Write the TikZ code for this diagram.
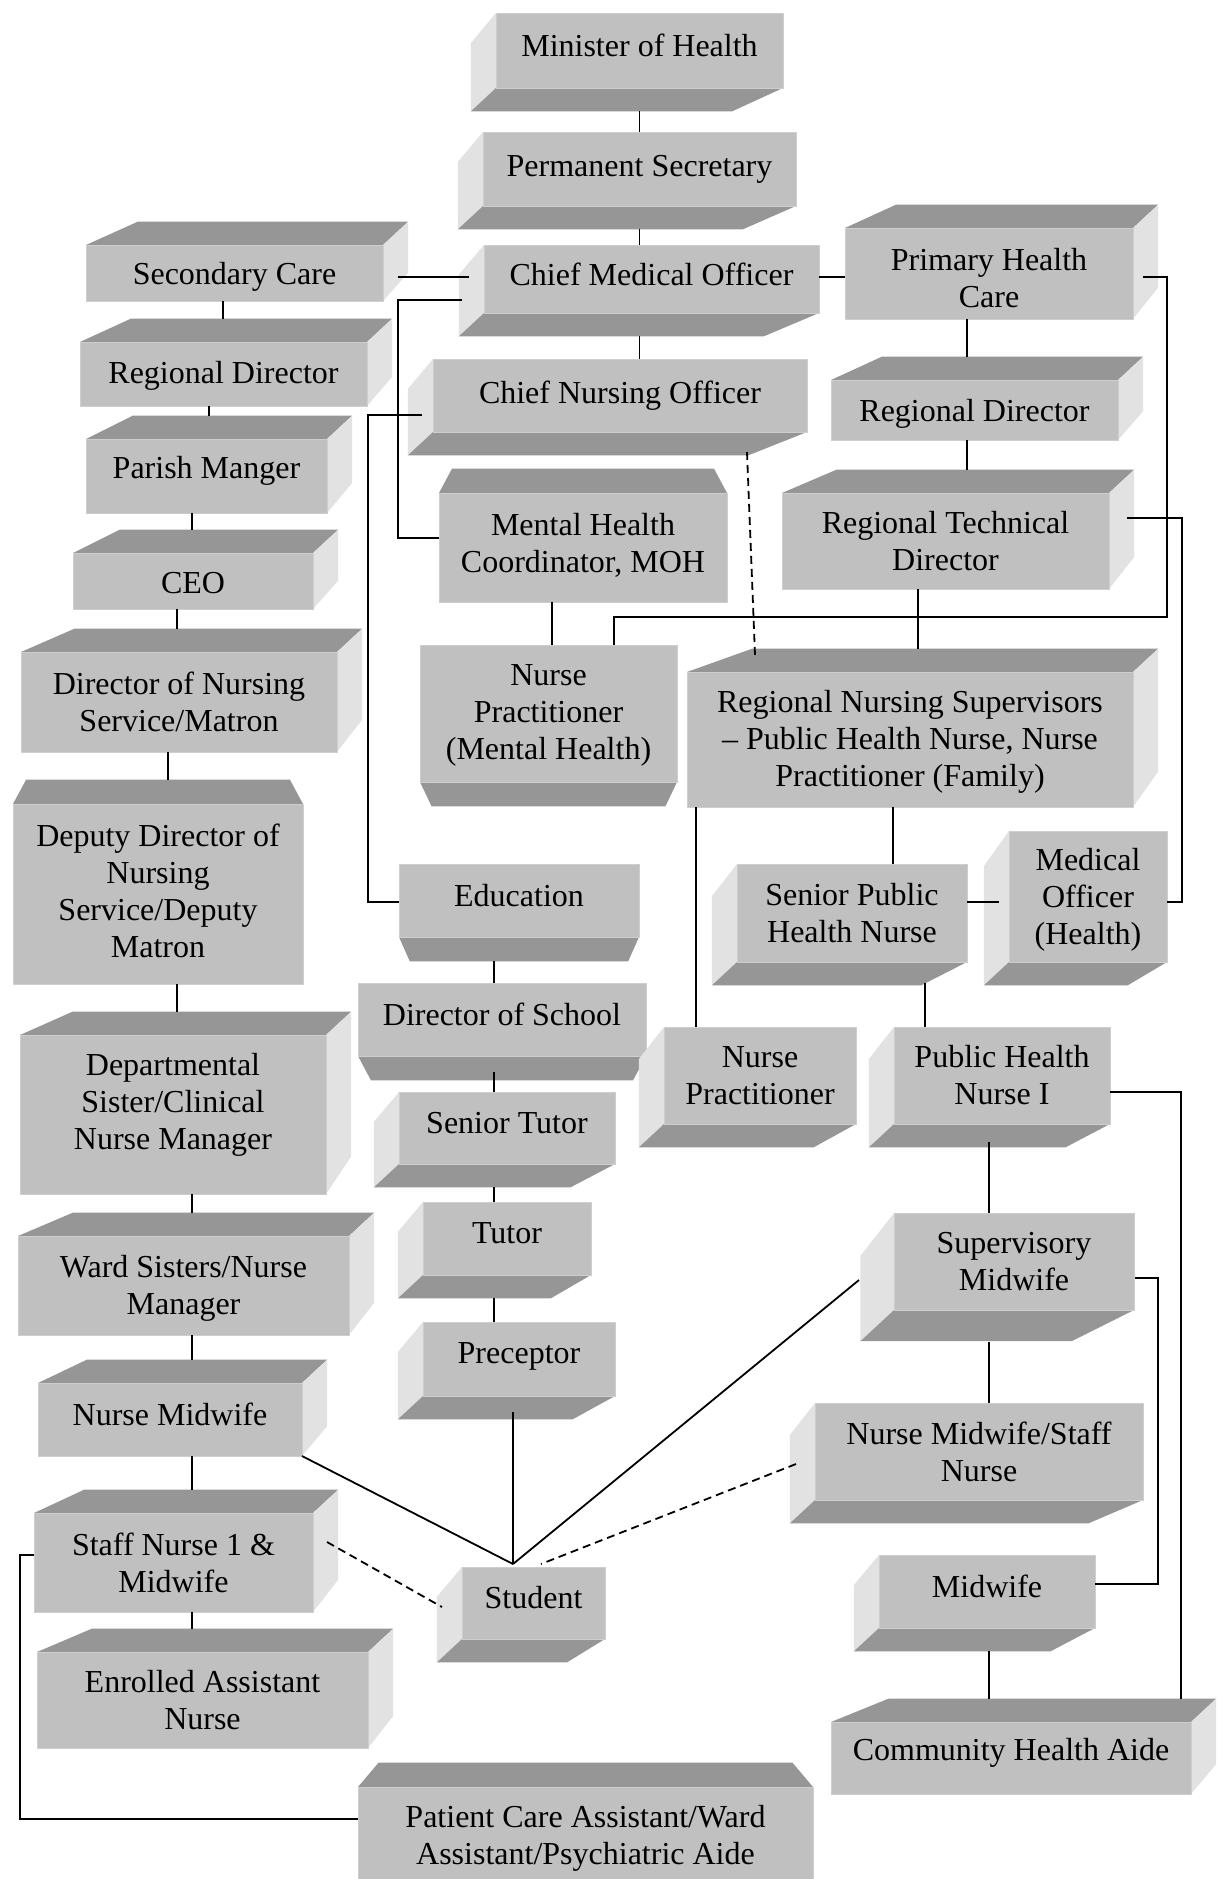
\documentclass[tikz,border=0pt]{standalone}
\usepackage{fontspec}
\setmainfont{Liberation Serif}
\usetikzlibrary{calc,fit}

\definecolor{cubefront}{RGB}{192,192,192}
\definecolor{cubedark}{RGB}{150,150,150}
\definecolor{cubelight}{RGB}{226,226,226}
\definecolor{cuberim}{RGB}{206,206,206}

% share of the way from a front corner to the vanishing point
\def\cubedepth{0.09}

% vanishing points for each extrusion direction (#1 name, #2 left, #3 top, #4 right, #5 bottom)
\newcommand{\vpUR}[5]{\coordinate (#1-v) at (#4+280,#3-260);}
\newcommand{\vpDL}[5]{\coordinate (#1-v) at (#2-280,#5+260);}
\newcommand{\vpU}[5]{\coordinate (#1-v) at ({(#2+#4)/2},#3-270);}
\newcommand{\vpD}[5]{\coordinate (#1-v) at ({(#2+#4)/2},#5+270);}

% visible side faces for each extrusion direction
\newcommand{\facesUR}[1]{%
  \fill[cubedark] (#1-tl) -- (#1-tr) -- (#1-trb) -- (#1-tlb) -- cycle;
  \fill[cubelight] (#1-tr) -- (#1-br) -- (#1-brb) -- (#1-trb) -- cycle;}
\newcommand{\facesDL}[1]{%
  \fill[cubelight] (#1-tl) -- (#1-bl) -- (#1-blb) -- (#1-tlb) -- cycle;
  \fill[cubedark] (#1-bl) -- (#1-br) -- (#1-brb) -- (#1-blb) -- cycle;}
\newcommand{\facesU}[1]{%
  \fill[cubedark] (#1-tl) -- (#1-tr) -- (#1-trb) -- (#1-tlb) -- cycle;}
\newcommand{\facesD}[1]{%
  \fill[cubedark] (#1-bl) -- (#1-br) -- (#1-brb) -- (#1-blb) -- cycle;}

% [text options]{name}{left}{top}{right}{bottom}{direction}{text}
\newcommand{\cubebox}[8][]{%
  \coordinate (#2-tl) at (#3,#4);
  \coordinate (#2-tr) at (#5,#4);
  \coordinate (#2-br) at (#5,#6);
  \coordinate (#2-bl) at (#3,#6);
  \csname vp#7\endcsname{#2}{#3}{#4}{#5}{#6}%
  \coordinate (#2-tlb) at ($(#2-tl)!\cubedepth!(#2-v)$);
  \coordinate (#2-trb) at ($(#2-tr)!\cubedepth!(#2-v)$);
  \coordinate (#2-brb) at ($(#2-br)!\cubedepth!(#2-v)$);
  \coordinate (#2-blb) at ($(#2-bl)!\cubedepth!(#2-v)$);
  \csname faces#7\endcsname{#2}%
  \node[frontface, fit=(#2-tl)(#2-br)] (#2) {};
  \node[boxtext,#1] (#2-text) at (#2.center) {#8};
}

% vertical connector from a point straight down to the level of a target
\newcommand{\vdrop}[3][]{\coordinate (vd) at (#2); \draw[link,#1] (vd) -- (vd |- #3);}

\begin{document}
\begin{tikzpicture}[x=0.5pt,y=-0.5pt,
  frontface/.style={rectangle, fill=cubefront, draw=cuberim, line width=0.5pt,
    inner sep=0pt, outer sep=0pt},
  boxtext/.style={align=center, inner sep=0pt, font=\fontsize{16}{18.5}\selectfont},
  oneline/.style={yshift=2.5pt},
  link/.style={line width=0.9pt, black},
  dashlink/.style={link, dash pattern=on 4pt off 2.5pt}]

\fill[white] (0,0) rectangle (1220,1879);
\useasboundingbox (0,0) rectangle (1220,1879);

% ---- ministry spine ----
\cubebox[oneline]{moh}{496}{13}{783}{88}{DL}{Minister of Health}
\cubebox{ps}{483}{132}{796}{206}{DL}{Permanent Secretary}
\cubebox[oneline]{cmo}{484}{245}{819}{313}{DL}{Chief Medical Officer}
\cubebox{cno}{433}{359}{807}{432}{DL}{Chief Nursing Officer}

% ---- secondary care column ----
\cubebox[yshift=-2pt]{sc}{86}{245}{383}{301}{UR}{Secondary Care}
\cubebox[yshift=-1pt]{rdl}{80}{342}{367}{406}{UR}{Regional Director}
\cubebox[oneline]{pm}{86}{439}{327}{513}{UR}{Parish Manger}
\cubebox[yshift=-1pt]{ceo}{73}{553}{313}{609}{UR}{CEO}
\cubebox{don}{21}{652}{337}{752}{UR}{Director of Nursing\\Service/Matron}
\cubebox[yshift=1.5pt]{ddn}{13}{804}{303}{984}{U}{Deputy Director of\\Nursing\\Service/Deputy\\Matron}
\cubebox[yshift=4.8pt]{dsc}{20}{1035}{326}{1194}{UR}{Departmental\\Sister/Clinical\\Nurse Manager}
\cubebox[yshift=-1.5pt]{wsn}{18}{1236}{349}{1335}{UR}{Ward Sisters/Nurse\\Manager}
\cubebox[oneline]{nmw}{38}{1383}{302}{1456}{UR}{Nurse Midwife}
\cubebox{sn1}{34}{1513}{313}{1612}{UR}{Staff Nurse 1 \&\\Midwife}
\cubebox{ean}{37}{1652}{368}{1748}{UR}{Enrolled Assistant\\Nurse}
\cubebox[yshift=-2.5pt]{pca}{358}{1787}{813}{1879}{U}{Patient Care Assistant/Ward\\Assistant/Psychiatric Aide}

% ---- mental health and education ----
\cubebox[yshift=1pt]{mhc}{439}{493}{727}{602}{U}{Mental Health\\Coordinator, MOH}
\cubebox[yshift=-1pt]{npm}{420}{645}{677}{782}{D}{Nurse\\Practitioner\\(Mental Health)}
\cubebox[oneline]{edu}{399}{864}{639}{937}{D}{Education}
\cubebox[oneline]{dos}{358}{983}{646}{1056}{D}{Director of School}
\cubebox[oneline]{sent}{399}{1092}{615}{1164}{DL}{Senior Tutor}
\cubebox[oneline]{tut}{423}{1202}{591}{1275}{DL}{Tutor}
\cubebox[yshift=1.3pt]{pre}{423}{1322}{615}{1396}{DL}{Preceptor}
\cubebox[oneline]{stud}{462}{1567}{605}{1639}{DL}{Student}

% ---- primary health care column ----
\cubebox[yshift=-2.5pt]{phc}{845}{228}{1133}{319}{UR}{Primary Health\\Care}
\cubebox[yshift=-2pt]{rdr}{831}{380}{1118}{440}{UR}{Regional Director}
\cubebox{rtd}{782}{493}{1109}{589}{UR}{Regional Technical\\Director}
\cubebox[yshift=-1pt]{rns}{687}{672}{1133}{807}{UR}{Regional Nursing Supervisors\\\textendash\ Public Health Nurse, Nurse\\Practitioner (Family)}
\cubebox{sphn}{737}{864}{967}{962}{DL}{Senior Public\\Health Nurse}
\cubebox[yshift=-1.5pt]{mo}{1009}{831}{1167}{962}{DL}{Medical\\Officer\\(Health)}
\cubebox{np}{664}{1027}{856}{1124}{DL}{Nurse\\Practitioner}
\cubebox{phn}{894}{1027}{1110}{1124}{DL}{Public Health\\Nurse I}
\def\cubedepth{0.12}
\cubebox{sm}{894}{1213}{1134}{1310}{DL}{Supervisory\\Midwife}
\def\cubedepth{0.09}
\cubebox{nmsn}{815}{1403}{1143}{1500}{DL}{Nurse Midwife/Staff\\Nurse}
\cubebox[oneline]{mw}{879}{1555}{1095}{1628}{DL}{Midwife}
\cubebox[oneline]{cha}{831}{1722}{1191}{1794}{UR}{Community Health Aide}

% ---- connectors: ministry ----
\draw[link] (moh-blb -| moh.south) -- (ps.north);
\draw[link] (ps-blb -| ps.south) -- (ps.south |- cmo.north);
\draw[link] (cmo-blb -| ps.south) -- (ps.south |- cno.north);
\draw[link] ($(sc.east)+(15,4)$) -- ($(cmo.west)+(-15,-2)$);
\draw[link] ($(cmo.west)+(-22,21)$) -| ($(mhc.west)+(-41,-9.5)$) -- ($(mhc.west)+(0,-9.5)$);
\draw[link] ($(cno.west)+(-11,19.5)$) -| ($(edu.west)+(-31,1.5)$) -- ($(edu.west)+(0,1.5)$);
\draw[link] ($(cmo.east)+(0,-2)$) -- ($(phc.west)+(0,3.5)$);

% ---- connectors: primary health care ----
\vdrop{$(phc.south)+(-22,0)$}{rdr-tlb}
\vdrop{$(rdr.south)+(-7.5,0)$}{rtd-tlb}
\draw[link] ($(phc.east)+(10,3.5)$) -- ++(24,0) |- ($(npm.north)+(65.5,-28)$) -- ($(npm.north)+(65.5,0)$);
\draw[link] ($(rtd.east)+(18,-23)$) -| ($(mo.east)+(15,5.5)$) -- ($(mo.east)+(0,5.5)$);
\vdrop{$(mhc.south)+(-31,0)$}{npm.north}
\draw[dashlink] ($(cno.south)+(127,20)$) -- ($(rns.north)+(-155,-17)$);
\vdrop{$(rtd.south)+(-27.5,0)$}{rns-tlb}
\vdrop{$(rns.south)+(-17,0)$}{sphn.north}
\vdrop{$(rns.south west)+(9,0)$}{np.north}
\draw[link] ($(sphn.east)+(0,-11)$) -- ($(mo.west)+(-10,5.5)$);
\vdrop{$(sphn.south)+(73,21)$}{phn.north}
\draw[link] ($(phn.east)+(0,16.5)$) -| ($(cha.north east)+(-10,-23)$);
\vdrop{$(phn.south)+(-13,18)$}{sm.north}
\draw[link] ($(sm.east)+(1,16.5)$) -| ($(mw.east)+(63,-7.5)$) -- ($(mw.east)+(0,-7.5)$);
\vdrop{$(sm.south)+(-25,32)$}{nmsn.north}
\vdrop{$(mw.south)+(2,23)$}{cha-tlb}

% ---- connectors: student ----
\coordinate (apex) at ($(stud.north)+(-20.5,-3)$);
\draw[dashlink] ($(nmsn.west)+(-19,12.5)$) -- ($(stud.north)+(7.5,-3)$);
\draw[link] ($(sm.west)+(-35,18.5)$) -- (apex);
\draw[link] ($(pre.south)+(-6,16)$) -- (apex);
\draw[link] (nmw.south east) -- (apex);
\draw[dashlink] ($(sn1.east)+(14,-20.5)$) -- ($(stud.west)+(-20,4)$);
\draw[link] ($(sn1.west)+(0,-7.5)$) -| ($(pca.west)+(-338,-14)$) -- ($(pca.west)+(0,-14)$);

% ---- connectors: secondary care column ----
\vdrop{$(sc.south)+(-11.5,0)$}{rdl-tlb}
\vdrop{$(rdl.south)+(-14.5,0)$}{pm-tlb}
\vdrop{$(pm.south)+(-14.5,0)$}{ceo-tlb}
\vdrop{$(ceo.south)+(-16,0)$}{don-tlb}
\vdrop{$(don.south)+(-11,0)$}{ddn-tlb}
\vdrop{$(ddn.south)+(19,0)$}{dsc-tlb}
\vdrop{$(dsc.south)+(19,0)$}{wsn-tlb}
\vdrop{$(wsn.south)+(8.5,0)$}{nmw-tlb}
\vdrop{$(nmw.south)+(22,0)$}{sn1-tlb}
\vdrop{$(sn1.south)+(18.5,0)$}{ean-tlb}

% ---- connectors: education ----
\vdrop{$(edu.south)+(-25,24)$}{dos.north}
\vdrop{$(dos.south)+(-8,16)$}{sent.north}
\vdrop{$(sent.south)+(-13,23)$}{tut.north}
\vdrop{$(tut.south)+(-13,23)$}{pre.north}

\end{tikzpicture}
\end{document}
